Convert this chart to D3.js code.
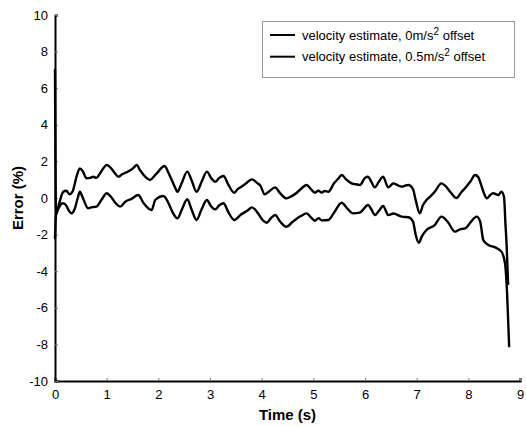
<!DOCTYPE html>
<html>
<head>
<meta charset="utf-8">
<script src="https://cdn.jsdelivr.net/npm/d3@7"></script>
<style>
  html, body { margin: 0; padding: 0; background: #fff; }
  svg { display: block; }
  text { font-family: "Liberation Sans", Arial, sans-serif; fill: #000; }
</style>
</head>
<body>
<svg id="chart" width="526" height="426"></svg>
<script>
// ---- data ----
const xTicks = [0, 1, 2, 3, 4, 5, 6, 7, 8, 9];
const yTicks = [-10, -8, -6, -4, -2, 0, 2, 4, 6, 8, 10];
const seriesNames = ["velocity estimate, 0m/s", "velocity estimate, 0.5m/s"];

const time0 = [0, 0.02, 0.08, 0.16, 0.22, 0.28, 0.34, 0.42, 0.48, 0.54, 0.61, 0.68, 0.74, 0.80, 0.86, 0.93, 1.0, 1.08, 1.16, 1.23, 1.30, 1.38, 1.45, 1.52, 1.58, 1.65, 1.75, 1.84, 1.92, 2.0, 2.06, 2.12, 2.2, 2.26, 2.32, 2.37, 2.45, 2.56, 2.64, 2.74, 2.84, 2.94, 3.02, 3.1, 3.18, 3.26, 3.36, 3.47, 3.54, 3.61, 3.72, 3.81, 3.92, 3.97, 4.06, 4.14, 4.26, 4.36, 4.48, 4.58, 4.68, 4.78, 4.87, 4.95, 5.03, 5.1, 5.16, 5.22, 5.29, 5.4, 5.48, 5.55, 5.64, 5.74, 5.82, 5.9, 6.0, 6.06, 6.12, 6.19, 6.27, 6.35, 6.45, 6.55, 6.63, 6.71, 6.78, 6.84, 6.93, 6.98, 7.06, 7.12, 7.19, 7.27, 7.35, 7.48, 7.56, 7.66, 7.77, 7.86, 7.94, 8.04, 8.13, 8.19, 8.25, 8.31, 8.36, 8.42, 8.48, 8.58, 8.64, 8.69, 8.72, 8.74, 8.77];
const error0 = [7.0, -0.9, -0.3, 0.34, 0.4, 0.2, 0.35, 1.2, 1.62, 1.45, 1.08, 1.1, 1.16, 1.1, 1.3, 1.6, 1.8, 1.65, 1.35, 1.16, 1.3, 1.4, 1.5, 1.65, 1.8, 1.5, 1.15, 0.98, 1.2, 1.44, 1.65, 1.75, 1.35, 0.98, 0.6, 0.34, 0.8, 1.44, 1.0, 0.34, 0.9, 1.44, 1.1, 0.89, 1.1, 1.2, 0.7, 0.29, 0.5, 0.62, 0.85, 1.02, 0.8, 0.7, 0.2, 0.35, 0.58, 0.25, -0.02, 0.1, 0.29, 0.55, 0.71, 0.5, 0.29, 0.4, 0.3, 0.38, 0.34, 0.8, 1.05, 1.26, 1.0, 0.8, 0.75, 0.71, 1.1, 1.16, 0.9, 0.58, 0.9, 1.16, 0.58, 0.8, 0.7, 0.62, 0.68, 0.71, 0.48, -0.1, -0.84, -0.4, -0.11, 0.1, 0.34, 0.8, 0.65, 0.3, 0.0, 0.3, 0.55, 0.9, 1.26, 1.15, 0.7, 0.2, -0.02, 0.15, 0.26, 0.16, 0.34, 0.07, -1.5, -2.5, -4.7];

const time1 = [0, 0.02, 0.08, 0.15, 0.21, 0.27, 0.32, 0.38, 0.44, 0.48, 0.54, 0.64, 0.72, 0.8, 0.9, 1.0, 1.1, 1.18, 1.26, 1.36, 1.48, 1.61, 1.72, 1.87, 1.94, 2.1, 2.2, 2.28, 2.37, 2.46, 2.56, 2.64, 2.74, 2.84, 2.94, 3.02, 3.1, 3.18, 3.26, 3.36, 3.47, 3.6, 3.72, 3.81, 3.92, 4.03, 4.1, 4.18, 4.26, 4.36, 4.48, 4.6, 4.75, 4.87, 4.95, 5.03, 5.1, 5.16, 5.29, 5.4, 5.55, 5.65, 5.77, 5.9, 6.06, 6.12, 6.19, 6.27, 6.35, 6.45, 6.55, 6.71, 6.84, 6.93, 6.98, 7.04, 7.1, 7.19, 7.35, 7.48, 7.6, 7.74, 7.85, 7.94, 8.05, 8.16, 8.23, 8.29, 8.39, 8.52, 8.64, 8.71, 8.75, 8.79];
const error1 = [-2.2, -0.9, -0.5, -0.29, -0.38, -0.7, -0.84, -0.6, 0.0, 0.34, 0.0, -0.56, -0.5, -0.47, -0.1, 0.26, 0.0, -0.3, -0.47, -0.2, -0.05, 0.16, -0.3, -0.66, -0.11, 0.11, -0.3, -0.8, -1.11, -0.6, -0.07, -0.6, -1.2, -0.6, -0.11, -0.45, -0.62, -0.4, -0.29, -0.8, -1.2, -0.9, -0.7, -0.51, -0.8, -1.24, -1.35, -1.1, -0.93, -1.3, -1.57, -1.3, -1.0, -0.84, -1.05, -1.24, -1.1, -1.22, -1.2, -0.8, -0.26, -0.55, -0.84, -0.8, -0.38, -0.6, -0.93, -0.7, -0.44, -0.93, -0.85, -1.02, -1.05, -1.29, -2.0, -2.45, -2.1, -1.75, -1.48, -1.02, -1.3, -1.84, -1.7, -1.66, -1.3, -1.02, -1.3, -2.3, -2.57, -2.7, -2.93, -3.57, -5.2, -8.1];

// ---- layout ----
const svg = d3.select("#chart");
const mLeft = 55, mRight = 520, mTop = 15, mBottom = 381;

const x = d3.scaleLinear().domain([0, 9]).range([mLeft, mRight]);
const y = d3.scaleLinear().domain([-10, 10]).range([mBottom, mTop]);

// axes (plain hyphen for negatives, as in the original)
const fmt = d => String(d);
const xAxis = d3.axisBottom(x).tickValues(xTicks).tickSize(-3).tickPadding(9).tickFormat(fmt);
const yAxis = d3.axisLeft(y).tickValues(yTicks).tickSize(-3).tickPadding(7).tickFormat(fmt);

const gx = svg.append("g").attr("transform", `translate(0,${mBottom})`).call(xAxis);
const gy = svg.append("g").attr("transform", `translate(${mLeft},0)`).call(yAxis);

[gx, gy].forEach(g => {
  g.select(".domain").attr("stroke", "#000").attr("stroke-width", 2);
  g.selectAll(".tick line").attr("stroke", "#777").attr("stroke-width", 1);
  g.selectAll(".tick text").style("font-size", "13px").style("font-family", "'Liberation Sans', Arial, sans-serif").attr("fill", "#000");
});

// curves
const line = d3.line().curve(d3.curveMonotoneX).x(d => x(d[0])).y(d => y(d[1]));
const data0 = time0.map((t, i) => [t, error0[i]]);
const data1 = time1.map((t, i) => [t, error1[i]]);

svg.append("path").datum(data0).attr("d", line)
  .attr("fill", "none").attr("stroke", "#000").attr("stroke-width", 2.4)
  .attr("stroke-linejoin", "round").attr("stroke-linecap", "round");
svg.append("path").datum(data1).attr("d", line)
  .attr("fill", "none").attr("stroke", "#000").attr("stroke-width", 2.4)
  .attr("stroke-linejoin", "round").attr("stroke-linecap", "round");

// axis titles
svg.append("text").attr("x", (mLeft + mRight) / 2).attr("y", 420)
  .attr("text-anchor", "middle").style("font-size", "15px").style("font-weight", "bold")
  .text("Time (s)");
svg.append("text").attr("transform", `translate(23,${(mTop + mBottom) / 2}) rotate(-90)`)
  .attr("text-anchor", "middle").style("font-size", "15px").style("font-weight", "bold")
  .text("Error (%)");

// legend
const lg = svg.append("g");
lg.append("rect").attr("x", 262.5).attr("y", 21.5).attr("width", 252).attr("height", 56)
  .attr("fill", "#fff").attr("stroke", "#999").attr("stroke-width", 1);
seriesNames.forEach((name, i) => {
  const yy = 35 + i * 21.7;
  lg.append("line").attr("x1", 270).attr("x2", 295).attr("y1", yy).attr("y2", yy)
    .attr("stroke", "#000").attr("stroke-width", 2);
  const t = lg.append("text").attr("x", 302).attr("y", yy + 4.5).style("font-size", "13px");
  t.append("tspan").text(name);
  t.append("tspan").attr("dy", -5).style("font-size", "10px").text("2");
  t.append("tspan").attr("dy", 5).text(" offset");
});
</script>
</body>
</html>
